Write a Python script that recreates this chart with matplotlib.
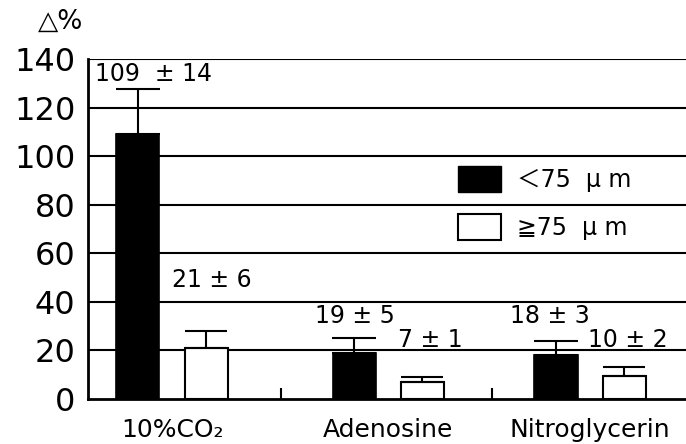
import matplotlib.pyplot as plt
from matplotlib.patches import Patch
import numpy as np

plt.rcParams['font.family'] = ['DejaVu Sans', 'Noto Sans CJK JP']

groups = ['10%CO₂', 'Adenosine', 'Nitroglycerin']
small = [109, 19, 18]          # < 75 um, black
small_err = [18.5, 6, 6]
large = [21, 7, 9.5]           # >= 75 um, white
large_err = [7, 2, 3.5]
labels_small = ['109  ± 14', '19 ± 5', '18 ± 3']
labels_large = ['21 ± 6', '7 ± 1', '10 ± 2']

x = np.array([0, 1.035, 2])    # group centres (middle one sits slightly right)
off = 0.163
w = 0.206

fig = plt.figure(figsize=(6.86, 4.44), dpi=100)
ax = fig.add_axes([0.1283, 0.1014, 0.8717, 0.7657])

ax.bar(x - off, small, w, color='black', edgecolor='black', linewidth=1.2, zorder=3)
ax.bar(x + off, large, w, color='white', edgecolor='black', linewidth=1.5, zorder=3)
ax.errorbar(x - off, small, yerr=[np.zeros(3), small_err], fmt='none', ecolor='black',
            elinewidth=1.5, capsize=16, capthick=1.5, zorder=4)
ax.errorbar(x + off, large, yerr=[np.zeros(3), large_err], fmt='none', ecolor='black',
            elinewidth=1.5, capsize=15, capthick=1.5, zorder=4)

# value labels (left x, centre y in data units)
ax.text(-0.368, 133.7, labels_small[0], fontsize=17, va='center', ha='left')
ax.text(0.0, 49, labels_large[0], fontsize=17, va='center', ha='left')
ax.text(0.684, 34, labels_small[1], fontsize=17, va='center', ha='left')
ax.text(1.081, 24.3, labels_large[1], fontsize=17, va='center', ha='left')
ax.text(1.617, 34, labels_small[2], fontsize=17, va='center', ha='left')
ax.text(1.99, 24.3, labels_large[2], fontsize=17, va='center', ha='left')

ax.set_xlim(-0.402, 2.459)
ax.set_ylim(0, 140)
ax.set_yticks(np.arange(0, 141, 20))
ax.tick_params(axis='y', length=0, labelsize=23, pad=9)
ax.set_xticks(x)
ax.set_xticklabels(groups, fontsize=18)
ax.tick_params(axis='x', which='major', length=0, pad=14)
ax.set_xticks([0.52, 1.53], minor=True)
ax.tick_params(axis='x', which='minor', direction='in', length=8, width=1.5)

for v in range(20, 141, 20):
    ax.axhline(v, color='black', linewidth=1.5, zorder=1)

for s in ['top', 'right']:
    ax.spines[s].set_visible(False)
ax.spines['left'].set_linewidth(2)
ax.spines['bottom'].set_linewidth(2)

fig.text(0.056, 0.95, '△%', fontsize=19, va='center', ha='left')

handles = [Patch(facecolor='black', edgecolor='black', label='＜75  μ m'),
           Patch(facecolor='white', edgecolor='black', linewidth=1.5, label='≧75  μ m')]
ax.legend(handles=handles, loc='upper left', bbox_to_anchor=(458 / 686, 1 - 166 / 444),
          bbox_transform=fig.transFigure, frameon=False, fontsize=17,
          handlelength=1.8, handleheight=1.3, handletextpad=0.7, labelspacing=0.95,
          borderpad=0, borderaxespad=0)

fig.savefig('out.png', dpi=100)
